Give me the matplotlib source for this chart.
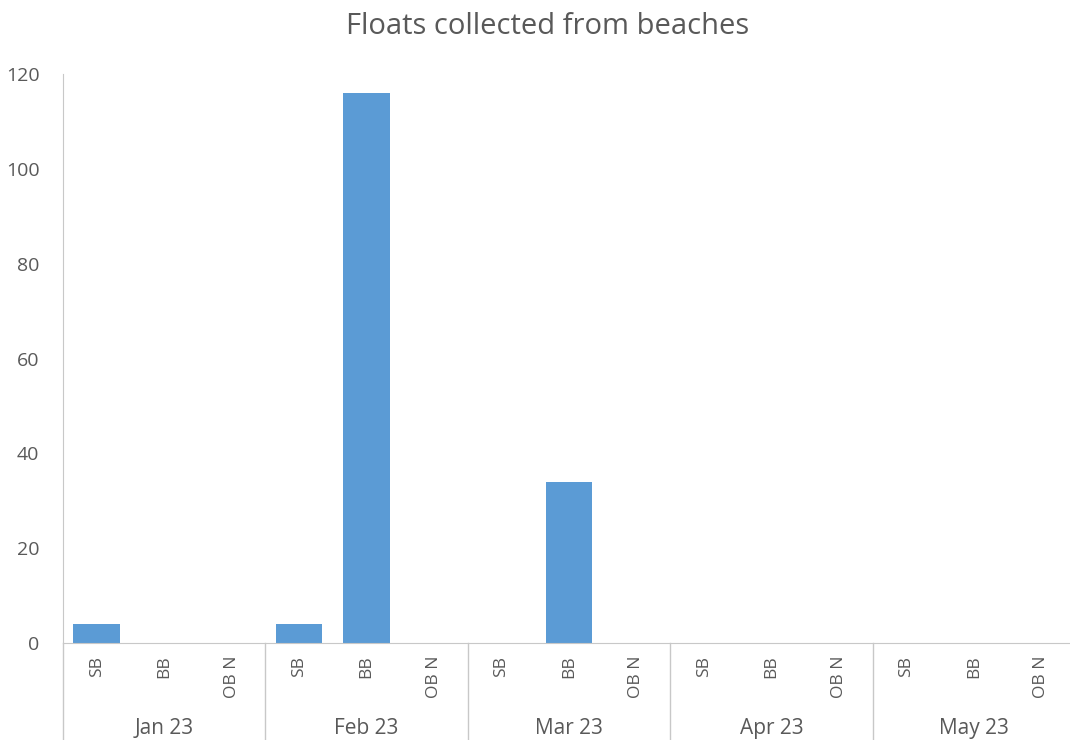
import numpy as np
import matplotlib.pyplot as plt
import matplotlib.transforms as mtransforms

plt.rcParams['font.family'] = ['Open Sans', 'DejaVu Sans']

# data
months = ['Jan 23', 'Feb 23', 'Mar 23', 'Apr 23', 'May 23']
beaches = ['SB', 'BB', 'OB N']
values = [4, 0, 0,
          4, 116, 0,
          0, 34, 0,
          0, 0, 0,
          0, 0, 0]
y_ticks = [0, 20, 40, 60, 80, 100, 120]

text_color = '#595959'
line_color = '#C8C8C8'
bar_color = '#5B9BD5'

W, H = 1070, 740
fig = plt.figure(figsize=(W / 100, H / 100), dpi=100)
ax = fig.add_axes([63 / W, (H - 643) / H, 1012 / W, (643 - 74) / H])

n = len(months) * len(beaches)
x = np.arange(n) + 0.5
ax.bar(x, values, width=0.69, color=bar_color, zorder=2)

ax.set_xlim(0, n)
ax.set_ylim(0, 120)
ax.set_yticks(y_ticks)
ax.set_yticklabels([str(t) for t in y_ticks], fontsize=14, color=text_color)
ax.tick_params(axis='y', length=0, pad=17)
ax.set_xticks([])

for s in ['top', 'right']:
    ax.spines[s].set_visible(False)
ax.spines['left'].set_color(line_color)
ax.spines['bottom'].set_color(line_color)

# separators and labels below the axis
trans = mtransforms.blended_transform_factory(ax.transData, ax.transAxes)
depth = -(740 - 643) / (643 - 74) - 0.01
for k in range(len(months) + 1):
    ax.plot([k * 3, k * 3], [0, depth], color=line_color, lw=1,
            transform=trans, clip_on=False)

for i, lab in enumerate(beaches * len(months)):
    ax.text(x[i], -0.022, lab, rotation=90, ha='center', va='top',
            fontsize=12.5, color=text_color, transform=trans)

for k, m in enumerate(months):
    ax.text(k * 3 + 1.5, -0.151, m, ha='center', va='center',
            fontsize=15, color=text_color, transform=trans)

fig.text(548 / W, 1 - 26 / H, 'Floats collected from beaches', ha='center',
         va='center', fontsize=21, color=text_color)

fig.savefig('out.png', dpi=100)
